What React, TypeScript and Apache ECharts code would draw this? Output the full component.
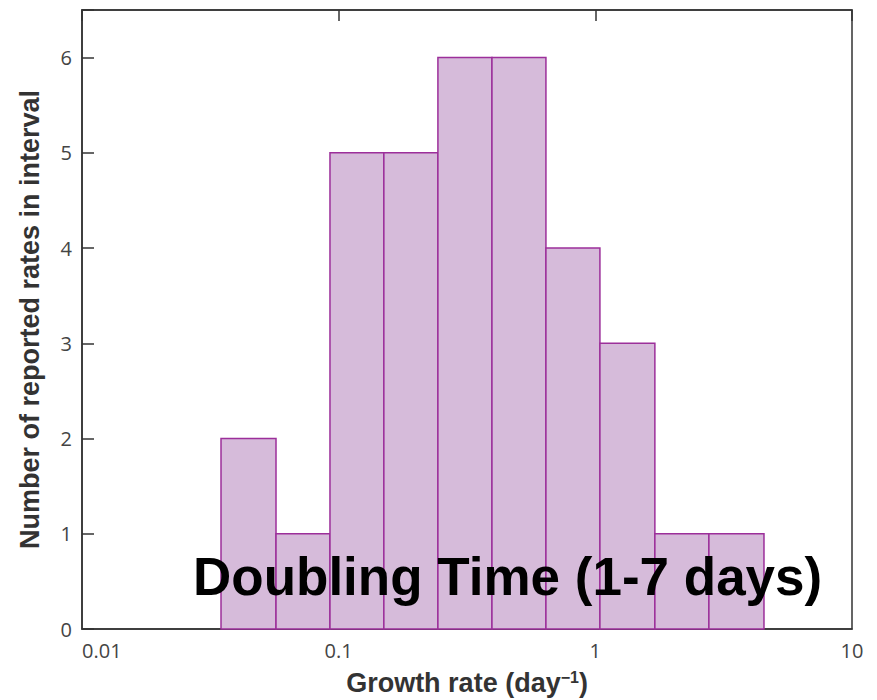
import React, { useEffect, useRef } from "react";
import * as echarts from "echarts";

// Bin edges (growth rate, day^-1)
const binEdges = [0.0348, 0.057, 0.0925, 0.150, 0.2436, 0.3956, 0.642, 1.042, 1.706, 2.77, 4.54];
// Number of reported rates in each interval
const binCounts = [2, 1, 5, 5, 6, 6, 4, 3, 1, 1];
const xTickLabels = ["0.01", "0.1", "1", "10"];
const yTickLabels = ["0", "1", "2", "3", "4", "5", "6"];
const overlayText = "Doubling Time (1-7 days)";

export default function App() {
  const ref = useRef<HTMLDivElement>(null);
  useEffect(() => {
    document.body.style.margin = "0";
    if (!ref.current) return;
    const chart = echarts.init(ref.current, undefined, { renderer: "svg" });
    const data = binCounts.map((c, i) => [binEdges[i], binEdges[i + 1], c]);
    const font = "'Liberation Sans', Arial, sans-serif";
    const tickFont = "'Open Sans', sans-serif";
    chart.setOption({
      animation: false,
      backgroundColor: "#ffffff",
      grid: {
        left: 82,
        right: 25,
        top: 10,
        bottom: 71,
        show: true,
        borderColor: "#333",
        borderWidth: 1.5,
        backgroundColor: "transparent",
        outerBoundsMode: "none",
        containLabel: false,
      },
      xAxis: [
        {
          type: "log",
          logBase: 10,
          min: 0.01,
          max: 10,
          position: "bottom",
          axisLine: { show: true, lineStyle: { color: "#333", width: 1.5 } },
          axisTick: { show: false },
          splitLine: { show: false },
          minorTick: { show: false },
          axisLabel: {
            color: "#444",
            fontSize: 20,
            lineHeight: 15,
            fontFamily: tickFont,
            margin: 14,
            alignMinLabel: "left",
            formatter: (v: number) => {
              const idx = Math.round(Math.log10(v)) + 2;
              return xTickLabels[idx] ?? "";
            },
            showMinLabel: true,
            showMaxLabel: true,
          },
          name: "{a|Growth rate (day}{s|−1}{a|)}",
          nameLocation: "middle",
          nameGap: 40,
          nameTextStyle: {
            rich: {
              a: { fontSize: 27, fontWeight: "bold", color: "#333", fontFamily: font },
              s: { fontSize: 16, fontWeight: "bold", color: "#333", fontFamily: font, verticalAlign: "top", padding: [0, 0, 12, 0] },
            },
          },
        },
        {
          type: "log",
          logBase: 10,
          min: 0.01,
          max: 10,
          position: "top",
          axisLine: { show: true, lineStyle: { color: "#333", width: 1.5 } },
          axisTick: { show: true, inside: true, length: 11, lineStyle: { color: "#333", width: 1.5 } },
          axisLabel: { show: false },
          splitLine: { show: false },
        },
      ],
      yAxis: {
        type: "value",
        min: 0,
        max: 6.5,
        interval: 1,
        axisLine: { show: true, lineStyle: { color: "#333", width: 1.5 } },
        axisTick: { show: true, inside: true, length: 12, lineStyle: { color: "#333", width: 1.5 } },
        splitLine: { show: false },
        axisLabel: {
          color: "#444",
          fontSize: 20,
          lineHeight: 15,
          fontFamily: tickFont,
          margin: 10,
          formatter: (v: number) => yTickLabels[v] ?? "",
        },
        name: "Number of reported rates in interval",
        nameLocation: "middle",
        nameGap: 39,
        nameTextStyle: { fontSize: 27, fontWeight: "bold", color: "#333", fontFamily: font },
      },
      series: [
        {
          type: "custom",
          xAxisIndex: 0,
          encode: { x: [0, 1], y: 2 },
          data,
          renderItem: (params: any, api: any) => {
            const start = api.coord([api.value(0), 0]);
            const end = api.coord([api.value(1), api.value(2)]);
            return {
              type: "rect",
              shape: {
                x: start[0],
                y: end[1],
                width: end[0] - start[0],
                height: start[1] - end[1],
              },
              style: { fill: "#d6bbda", stroke: "#9c2f9a", lineWidth: 1.5 },
            };
          },
        },
      ],
      graphic: [
        {
          type: "text",
          left: 193,
          top: 550,
          z: 100,
          style: {
            text: overlayText,
            fill: "#000",
            font: `bold 53px ${font}`,
          },
        },
      ],
    });
    return () => chart.dispose();
  }, []);
  return <div ref={ref} style={{ width: 877, height: 700 }} />;
}
